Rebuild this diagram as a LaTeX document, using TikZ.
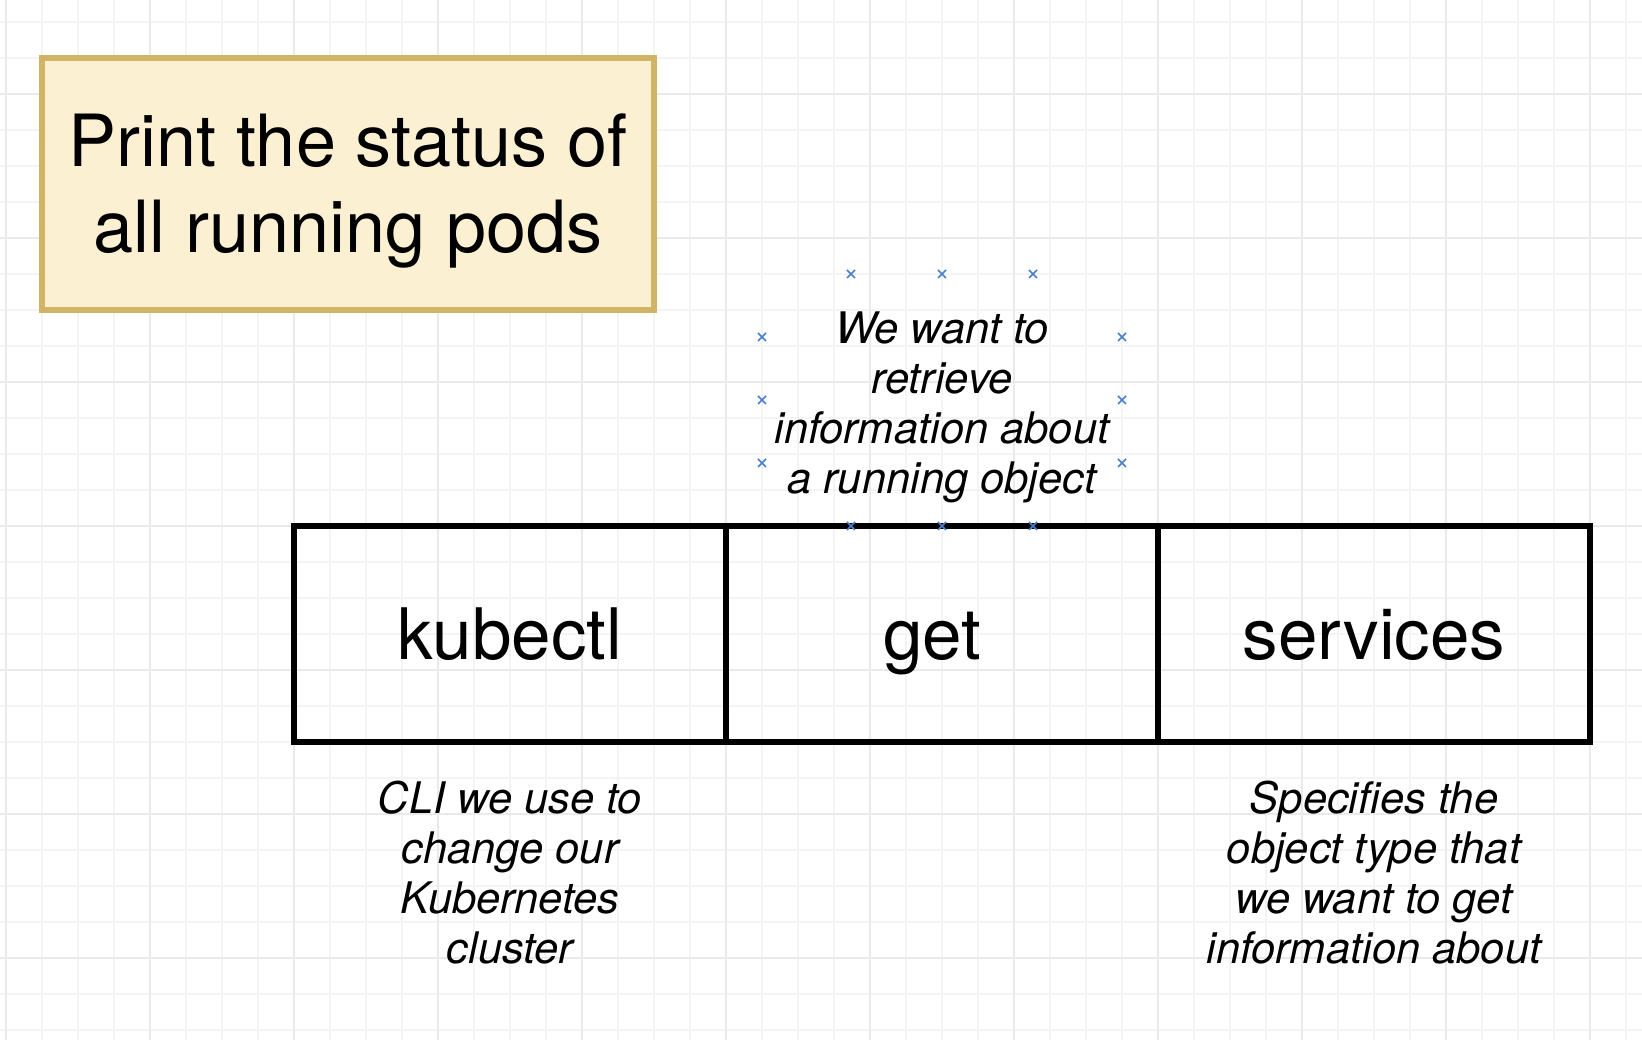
\documentclass[tikz,border=0pt]{standalone}
\usepackage{fontspec}
\setmainfont{TeX Gyre Heros}
\usetikzlibrary{positioning}
\definecolor{gridminor}{HTML}{F4F4F4}
\definecolor{gridmajor}{HTML}{EAEAEA}
\definecolor{notefill}{HTML}{FBF0D2}
\definecolor{noteline}{HTML}{D2B466}
\definecolor{selblue}{HTML}{4A7FD0}

\begin{document}
\begin{tikzpicture}[x=1pt, y=1pt,
	titlebox/.style={draw=noteline, fill=notefill, line width=5.5pt, minimum width=612pt, minimum height=252pt, inner sep=0pt, align=center, font=\fontsize{72}{86}\selectfont},
	cmdbox/.style={draw, line width=5.5pt, minimum width=432pt, minimum height=216pt, inner sep=0pt, outer sep=0pt, text height=51pt, text depth=0pt, font=\fontsize{71}{86}\selectfont},
	note/.style={align=center, inner sep=0pt, font=\fontsize{43.5}{50}\selectfont\itshape},
	selmark/.style={selblue, line width=1.5pt}]
	% the page, with the editor grid behind everything
	\useasboundingbox (0,0) rectangle (1642,1040);
	\fill[white] (0,0) rectangle (1642,1040);
	\foreach \gx in {6,42,...,1626} \draw[gridminor, line width=1.3pt] (\gx,0) -- (\gx,1040);
	\foreach \gy in {10,46,...,1018} \draw[gridminor, line width=1.3pt] (0,\gy) -- (1642,\gy);
	\foreach \gx in {6,150,...,1590} \draw[gridmajor, line width=1.3pt] (\gx,0) -- (\gx,1040);
	\foreach \gy in {82,226,...,946} \draw[gridmajor, line width=1.3pt] (0,\gy) -- (1642,\gy);

	\node[titlebox] (title) at (348,856) {\rule{0pt}{67pt}Print the status of\\all running pods};

	% the command, split in its three words
	\node[cmdbox] (kubectl) at (510,406) {kubectl};
	\node[cmdbox, right=0pt of kubectl] (get) {get\kern20pt};
	\node[cmdbox, right=0pt of get] (services) {services};

	\node[note, above=23pt of get] (getnote) {We want to\\retrieve\\information about\\a running object};
	\node[note, below=39pt of kubectl] (kubectlnote) {CLI we use to\\change our\\Kubernetes\\cluster};
	\node[note, below=39pt of services] (servicesnote) {Specifies the\\object type that\\we want to get\\information about};

	% handles of the selected text
	\foreach \mx/\my in {851/766, 942/766, 1033/766, 762/703, 1122/703, 762/640, 1122/640, 762/577, 1122/577, 851/514, 942/514, 1033/514}
		\draw[selmark] (\mx-4,\my-4) -- (\mx+4,\my+4) (\mx-4,\my+4) -- (\mx+4,\my-4);
\end{tikzpicture}
\end{document}
